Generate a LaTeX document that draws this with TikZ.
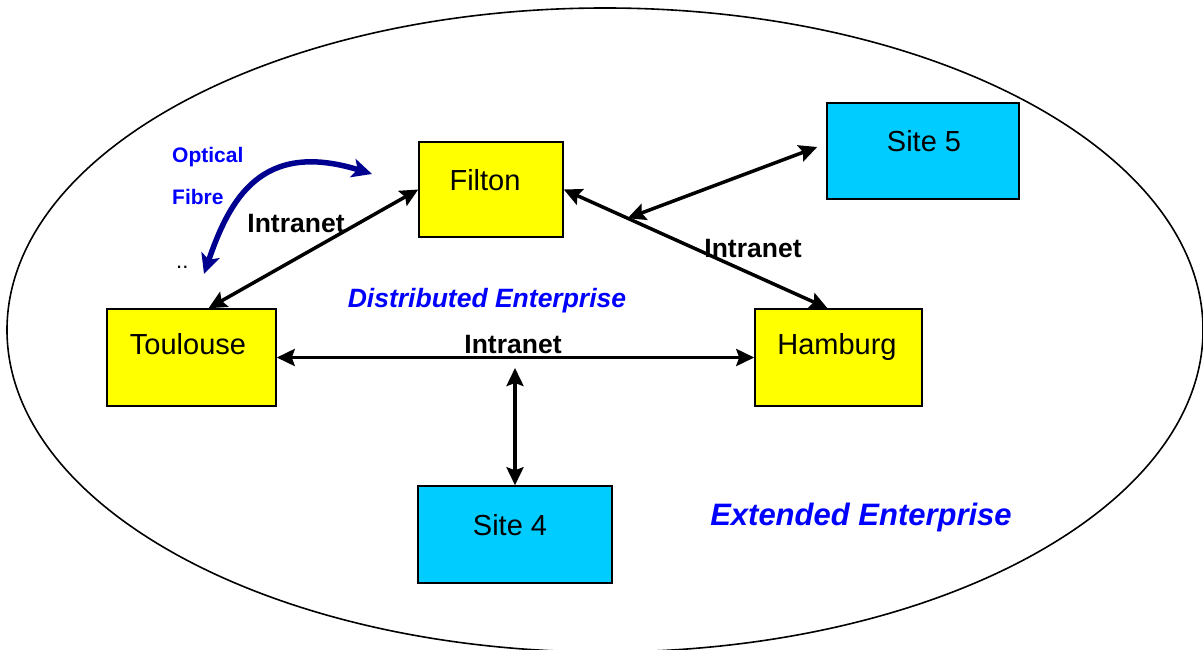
\documentclass[tikz,border=0pt]{standalone}
\usepackage{fontspec}
\setmainfont{Liberation Sans}
\usetikzlibrary{arrows.meta,shapes.geometric,calc}
\definecolor{boxyellow}{HTML}{FFFF00}
\definecolor{boxcyan}{HTML}{00CCFF}
\definecolor{txtblue}{HTML}{0000FF}
\definecolor{fibrenavy}{HTML}{000090}
\tikzset{
  ybox/.style={draw=black, line width=1.5bp, fill=boxyellow, inner sep=0pt},
  cbox/.style={draw=black, line width=1.5bp, fill=boxcyan, inner sep=0pt},
  boxlbl/.style={anchor=base, inner sep=0pt, font=\fontsize{29bp}{34bp}\selectfont},
  netlbl/.style={anchor=base, inner sep=0pt, font=\fontsize{26.5bp}{32bp}\selectfont\bfseries},
  conn/.style={line width=3.5bp, {Stealth[length=18bp,width=17bp,inset=3bp]}-{Stealth[length=18bp,width=17bp,inset=3bp]}},
  fibre/.style={draw=fibrenavy, line width=5.5bp, {Stealth[length=20bp,width=19bp,inset=5bp]}-{Stealth[length=20bp,width=19bp,inset=5bp]}},
}
\begin{document}
\begin{tikzpicture}[x=1bp,y=-1bp]
\useasboundingbox[fill=white] (0,0) rectangle (1203,650);
% outer ellipse
\node[draw=black, line width=1.6bp, ellipse, minimum width=1196bp, minimum height=644bp, inner sep=0pt] (ext) at (605,330) {};
% boxes
\node[ybox, minimum width=144bp, minimum height=95bp] (fil) at (491,189.5) {};
\node[cbox, minimum width=192bp, minimum height=96bp] (s5) at (923,151) {};
\node[ybox, minimum width=169bp, minimum height=97bp] (tou) at (191.5,357.5) {};
\node[ybox, minimum width=167bp, minimum height=97bp] (ham) at (838.5,357.5) {};
\node[cbox, minimum width=194bp, minimum height=97bp] (s4) at (515,534.5) {};
% box labels
\node[boxlbl] (filt) at (485,191) {Filton};
\node[boxlbl] (s5t) at (924,152) {Site 5};
\node[boxlbl] (tout) at (188,354) {Toulouse};
\node[boxlbl] (hamt) at (837,354) {Hamburg};
\node[boxlbl] (s4t) at (510,535) {Site 4};
% connectors
\draw[conn] ([xshift=17bp]tou.north) -- (fil.west);
\coordinate (hamtop) at ([xshift=-11bp]ham.north);
\draw[conn] (fil.east) -- (hamtop);
\coordinate (j5) at ($(fil.east)!0.242!(hamtop)$);
\draw[conn] (j5) -- ([shift={(-9bp,4bp)}]s5.west);
\draw[conn] (tou.east) -- (ham.west);
\coordinate (hub) at (515,368);
\draw[conn] (hub) -- (s4.north);
% intranet labels
\node[netlbl] (n1) at (296,233) {Intranet};
\node[netlbl] (n2) at (753,257) {Intranet};
\node[netlbl] (n3) at (513,353) {Intranet};
% enterprise labels
\node[anchor=base, inner sep=0pt, text=txtblue, font=\fontsize{26.5bp}{32bp}\selectfont\bfseries\itshape] (de) at (487,307) {Distributed Enterprise};
\node[anchor=base, inner sep=0pt, text=txtblue, font=\fontsize{31bp}{37bp}\selectfont\bfseries\itshape] (ee) at (861,525) {Extended Enterprise};
% optical fibre
\node[anchor=base west, inner sep=0pt, text=txtblue, font=\fontsize{21bp}{25bp}\selectfont\bfseries] (opt) at (172,163) {Optical};
\node[anchor=base west, inner sep=0pt, text=txtblue, font=\fontsize{21bp}{25bp}\selectfont\bfseries] (fib) at (172,205) {Fibre};
\node[anchor=base west, inner sep=0pt, font=\fontsize{22bp}{26bp}\selectfont] (dots) at (176,268) {..};
\coordinate (of1) at (372,174);
\coordinate (of2) at (204,274);
\draw[fibre] (of2) .. controls (230,198) and (262,140) .. (of1);
\end{tikzpicture}
\end{document}
